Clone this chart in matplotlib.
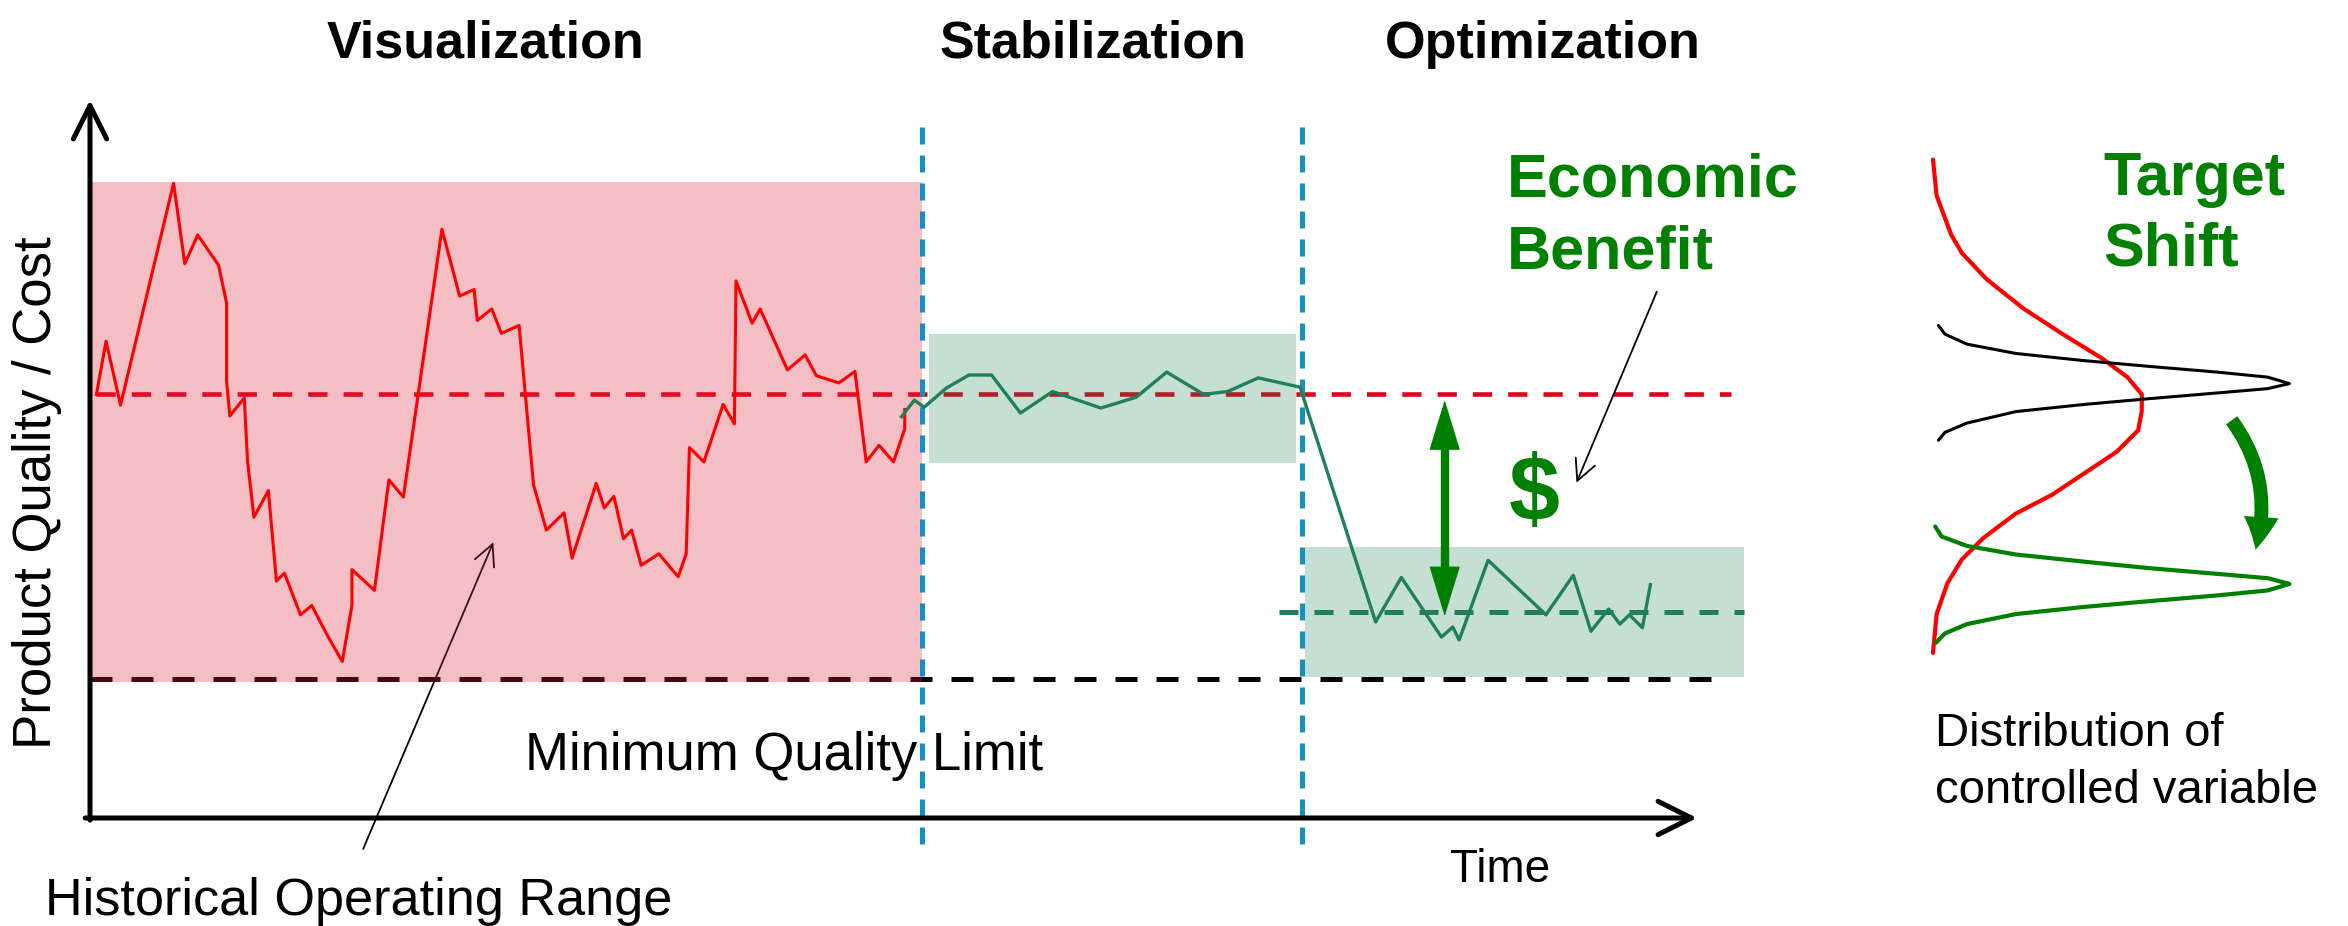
import matplotlib
matplotlib.use("Agg")
import matplotlib.pyplot as plt
from matplotlib.patches import Rectangle, FancyArrowPatch

# time axis runs 0..100, quality axis runs 0..100
hist_t = [0.4, 1.0, 1.9, 5.2, 5.9, 6.7, 8.0, 8.5, 8.5, 8.7, 9.6, 9.8, 10.2, 11.1, 11.6, 12.1,
          13.1, 13.8, 14.8, 15.7, 16.3, 16.3, 17.7, 18.6, 19.5, 21.9, 23.0, 23.9, 24.1, 25.0,
          25.6, 26.7, 27.6, 28.4, 29.5, 30.0, 31.5, 32.0, 32.6, 33.2, 33.7, 34.3, 35.4, 36.6,
          37.1, 37.3, 38.2, 39.4, 40.1, 40.2, 41.2, 41.7, 43.4, 44.5, 45.2, 46.6, 47.6, 48.3,
          49.1, 50.0, 50.7, 50.7]
hist_q = [59.0, 66.4, 57.5, 88.4, 77.2, 81.2, 77.0, 71.7, 60.8, 56.0, 58.5, 49.8, 41.9, 45.6,
          33.0, 34.1, 28.3, 29.6, 25.3, 21.8, 29.6, 34.6, 31.7, 47.1, 44.7, 82.0, 72.7, 73.6,
          69.3, 70.9, 67.5, 68.6, 46.4, 40.1, 42.5, 36.2, 46.6, 43.2, 44.8, 38.9, 40.1, 35.2,
          36.8, 33.6, 36.8, 51.6, 49.6, 57.6, 54.9, 74.8, 68.9, 70.9, 62.4, 64.5, 61.6, 60.6,
          62.2, 49.6, 51.9, 49.6, 54.2, 56.9]

ctrl_t = [50.5, 51.3, 51.9, 53.3, 54.7, 56.1, 57.9, 59.9, 62.9, 65.1, 67.0, 69.3, 70.8, 72.7,
          75.3, 80.0, 81.6, 84.1, 84.8, 85.2, 87.0, 90.6, 92.3, 93.4, 94.5, 95.2, 95.8, 96.6, 97.1]
ctrl_q = [55.9, 58.2, 57.2, 59.9, 61.7, 61.7, 56.4, 59.4, 57.1, 58.6, 62.1, 59.0, 59.4, 61.3,
          60.0, 27.3, 33.5, 25.2, 26.6, 24.8, 35.9, 28.3, 33.8, 26.0, 29.1, 27.0, 28.3, 26.5, 32.5]

old_target = 59.0
new_target = 28.7
min_limit = 19.4
hist_range = (18.9, 88.6)
stab_band = (49.4, 67.4)
opt_band = (19.6, 37.7)
phase_edges = [51.8, 75.4]
phase_names = ["Visualization", "Stabilization", "Optimization"]
phase_centers = [24.6, 62.4, 90.4]

# distributions of the controlled variable (relative density vs value)
red_d = [0.00, 0.01, 0.05, 0.08, 0.15, 0.25, 0.36, 0.47, 0.54, 0.58, 0.58, 0.57, 0.51, 0.42,
         0.33, 0.23, 0.14, 0.08, 0.04, 0.01, 0.00]
red_v = [91.7, 86.7, 81.3, 78.7, 75.0, 71.0, 67.4, 64.0, 61.4, 59.0, 56.7, 54.0, 51.0, 48.0,
         45.0, 42.4, 39.0, 36.0, 32.7, 28.4, 23.0]
blk_d = [0.015, 0.033, 0.094, 0.23, 0.42, 0.60, 0.79, 0.93, 0.99, 0.93, 0.79, 0.60, 0.42,
         0.23, 0.094, 0.033, 0.015]
blk_v = [68.6, 67.4, 66.0, 64.7, 63.7, 62.9, 62.1, 61.4, 60.5, 59.8, 59.2, 58.4, 57.6, 56.6,
         55.0, 53.7, 52.6]
grn_d = [0.006, 0.024, 0.094, 0.23, 0.42, 0.60, 0.79, 0.93, 0.99, 0.93, 0.79, 0.60, 0.42,
         0.23, 0.094, 0.033, 0.008]
grn_v = [40.6, 39.2, 37.9, 36.7, 35.7, 34.8, 34.0, 33.4, 32.6, 31.7, 31.0, 30.2, 29.4, 28.4,
         27.0, 25.7, 24.4]

W, H = 2348, 926
X0, XPER = 90, 16.07      # pixel of t=0, pixels per time unit
Y0, YPER = 818, 7.18      # pixel of q=0, pixels per quality unit

GREEN = "#008000"
SERIES_GREEN = "#208058"
SANS = ["Liberation Sans", "DejaVu Sans"]

fig = plt.figure(figsize=(W / 100, H / 100), dpi=100)
ax = fig.add_axes([0, 0, 1, 1])
ax.set_xlim(-X0 / XPER, (W - X0) / XPER)
ax.set_ylim(-(H - Y0) / YPER, Y0 / YPER)
ax.axis("off")

# reference lines (under the shaded bands)
ax.plot([0.4, 102.1], [old_target] * 2, color="#E2001A", lw=3.3, dashes=(4.2, 3.5), zorder=1)
ax.plot([0, 101.1], [min_limit] * 2, color="black", lw=3.6, dashes=(4.4, 3.8), zorder=1)

# historical range arrow sits under the pink band
ax.annotate("", xy=(25.1, 38.4), xytext=(17.0, -4.3),
            arrowprops=dict(arrowstyle="->,head_length=0.5,head_width=0.25", lw=1.3,
                            color="black", mutation_scale=30, shrinkA=0, shrinkB=0), zorder=1.5)

ax.add_patch(Rectangle((0, hist_range[0]), phase_edges[0], hist_range[1] - hist_range[0],
                       facecolor="#DE263E", alpha=0.3, lw=0, zorder=2))
ax.add_patch(Rectangle((52.2, stab_band[0]), 75.05 - 52.2, stab_band[1] - stab_band[0],
                       facecolor="#1B8357", alpha=0.25, lw=0, zorder=2))
ax.add_patch(Rectangle((75.6, opt_band[0]), 102.9 - 75.6, opt_band[1] - opt_band[0],
                       facecolor="#1B8357", alpha=0.25, lw=0, zorder=2))

for xe in phase_edges:
    ax.plot([xe, xe], [96.2, -4.6], color="#168FC1", lw=3.6, dashes=(3.4, 2.2), zorder=3)

ax.plot(hist_t, hist_q, color="#FF0000", lw=2.2, zorder=4)
ax.plot(ctrl_t, ctrl_q, color=SERIES_GREEN, lw=2.4, zorder=4)
ax.plot([74.0, 102.9], [new_target] * 2, color=SERIES_GREEN, lw=3.6, dashes=(3.8, 3.2), zorder=4)

# axes arrows
axis_arrow = dict(arrowstyle="->,head_length=0.6,head_width=0.3", lw=3.6, color="black",
                  mutation_scale=40, shrinkA=0, shrinkB=0)
ax.annotate("", xy=(0, 100), xytext=(0, -0.3), arrowprops=axis_arrow, zorder=5)
ax.annotate("", xy=(100, 0), xytext=(-0.3, 0), arrowprops=axis_arrow, zorder=5)

# benefit double arrow
ax.plot([84.3, 84.3], [32.0, 54.0], color=GREEN, lw=6, solid_capstyle="butt", zorder=5)
head = dict(arrowstyle="-|>,head_length=1.7,head_width=0.52", lw=0.8, color=GREEN,
            mutation_scale=20, shrinkA=0, shrinkB=0)
ax.annotate("", xy=(84.3, 58.2), xytext=(84.3, 43.0), arrowprops=head, zorder=5)
ax.annotate("", xy=(84.3, 28.1), xytext=(84.3, 43.0), arrowprops=head, zorder=5)
ax.text(89.9, 44.9, "$", color=GREEN, fontsize=66, fontweight="bold", family=SANS,
        ha="center", va="center", zorder=6)
ax.annotate("", xy=(92.5, 46.7), xytext=(97.5, 73.3),
            arrowprops=dict(arrowstyle="->,head_length=0.5,head_width=0.25", lw=1.3,
                            color="black", mutation_scale=30, shrinkA=0, shrinkB=0), zorder=5)

# texts (no narrow face installed, so the condensed labels are set a bit smaller)
for name, xc in zip(phase_names, phase_centers):
    ax.text(xc, 105.85, name, fontsize=37.5, fontweight="bold", family=SANS,
            ha="center", va="baseline")
ax.text(-3.3, 45.3, "Product Quality / Cost", rotation=90, fontsize=38, family=SANS,
        ha="center", va="center")
ax.text(27.1, 6.7, "Minimum Quality Limit", fontsize=38, family=SANS, va="baseline")
ax.text(-2.8, -13.5, "Historical Operating Range", fontsize=37.6, family=SANS, va="baseline")
ax.text(84.6, -8.9, "Time", fontsize=33, family=SANS, va="baseline")
ax.text(88.2, 86.5, "Economic", fontsize=44, fontweight="bold", color=GREEN, family=SANS,
        va="baseline")
ax.text(88.2, 76.6, "Benefit", fontsize=44, fontweight="bold", color=GREEN, family=SANS,
        va="baseline")
ax.text(125.3, 86.8, "Target", fontsize=44, fontweight="bold", color=GREEN, family=SANS,
        va="baseline")
ax.text(125.3, 77.0, "Shift", fontsize=44, fontweight="bold", color=GREEN, family=SANS,
        va="baseline")
ax.text(114.8, 10.0, "Distribution of", fontsize=34, family=SANS, va="baseline")
ax.text(114.8, 2.1, "controlled variable", fontsize=34, family=SANS, va="baseline")

# distribution panel
ax2 = fig.add_axes([1933 / W, 0, 360 / W, 1])
ax2.set_xlim(0, 1)
ax2.set_ylim(ax.get_ylim())
ax2.axis("off")
ax2.patch.set_alpha(0)
ax2.plot(red_d, red_v, color="#FF0000", lw=3.0, solid_capstyle="round", solid_joinstyle="round",
         clip_on=False)
ax2.plot(blk_d, blk_v, color="black", lw=2.2, solid_capstyle="round", solid_joinstyle="round",
         clip_on=False)
ax2.plot(grn_d, grn_v, color=GREEN, lw=3.0, solid_capstyle="round", solid_joinstyle="round",
         clip_on=False)
shift = FancyArrowPatch((0.825, 55.7), (0.894, 37.0), connectionstyle="arc3,rad=-0.25",
                        arrowstyle="simple,head_length=0.95,head_width=1.0,tail_width=0.4",
                        mutation_scale=25, color=GREEN, lw=0, clip_on=False)
ax2.add_patch(shift)

fig.savefig("out.png", dpi=100)
